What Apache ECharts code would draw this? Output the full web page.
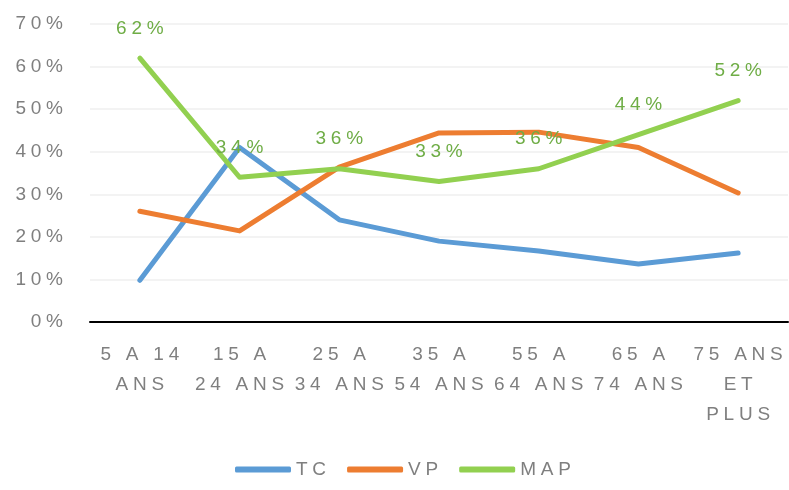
<!DOCTYPE html>
<html>
<head>
<meta charset="utf-8">
<script src="https://cdn.jsdelivr.net/npm/echarts@6/dist/echarts.min.js"></script>
<style>
  html, body { margin: 0; padding: 0; background: #fff; }
  #chart { width: 789px; height: 490px; }
</style>
</head>
<body>
<div id="chart"></div>
<script>
// age groups (line breaks as in the original)
const categories = ['5 A 14\nANS', '15 A\n24 ANS', '25 A\n34 ANS', '35 A\n54 ANS', '55 A\n64 ANS', '65 A\n74 ANS', '75 ANS\nET\nPLUS'];
const tc = [9.8, 41, 24, 19, 16.7, 13.6, 16.2];
const vp = [26, 21.4, 36.4, 44.4, 44.6, 41, 30.3];
const map = [62, 34, 36, 33, 36, 44, 52];
const yTicks = [0, 10, 20, 30, 40, 50, 60, 70];

const FONT = "'Liberation Sans', sans-serif";
// wide tracking like the Excel original
const spaced = function (s) {
  return String(s).split('\n').map(function (line) {
    return line.split('').join('\u2005');
  }).join('\n');
};

const chart = echarts.init(document.getElementById('chart'));

const lineSeries = function (name, data, color, withLabels) {
  return {
    name: name,
    type: 'line',
    data: data,
    symbol: 'circle',
    symbolSize: 0,
    showSymbol: true,
    animation: false,
    lineStyle: { color: color, width: 5, cap: 'round', join: 'round' },
    itemStyle: { color: color },
    label: withLabels ? {
      show: true,
      position: 'top',
      distance: 20,
      color: '#6FAD46',
      fontSize: 19,
      fontFamily: FONT,
      formatter: function (p) { return spaced(Math.round(p.value) + '%'); },
    } : { show: false },
  };
};

chart.setOption({
  backgroundColor: '#ffffff',
  grid: { left: 90, right: 1, top: 24, bottom: 168 },
  legend: {
    bottom: 6,
    left: 230,
    itemWidth: 56,
    itemHeight: 6,
    itemGap: 21,
    icon: 'roundRect',
    textStyle: { color: '#7F7F7F', fontSize: 19, fontFamily: FONT },
    formatter: function (n) { return spaced(n); },
    data: ['TC', 'VP', 'MAP'],
  },
  xAxis: {
    type: 'category',
    data: categories,
    boundaryGap: true,
    axisLine: { show: true, lineStyle: { color: '#000', width: 2 } },
    axisTick: { show: false },
    axisLabel: {
      color: '#7F7F7F',
      fontSize: 19,
      fontFamily: FONT,
      lineHeight: 30,
      margin: 18,
      interval: 0,
      formatter: function (v) { return spaced(v); },
    },
  },
  yAxis: {
    type: 'value',
    min: yTicks[0],
    max: yTicks[yTicks.length - 1],
    interval: 10,
    axisLine: { show: false },
    axisTick: { show: false },
    splitLine: { lineStyle: { color: '#EFEFEF', width: 1.5 } },
    axisLabel: {
      color: '#7F7F7F',
      fontSize: 19,
      fontFamily: FONT,
      margin: 27,
      formatter: function (v) { return spaced(v + '%'); },
    },
  },
  series: [
    lineSeries('TC', tc, '#5B9BD5', false),
    lineSeries('VP', vp, '#ED7D31', false),
    lineSeries('MAP', map, '#92D050', true),
  ],
});
</script>
</body>
</html>
